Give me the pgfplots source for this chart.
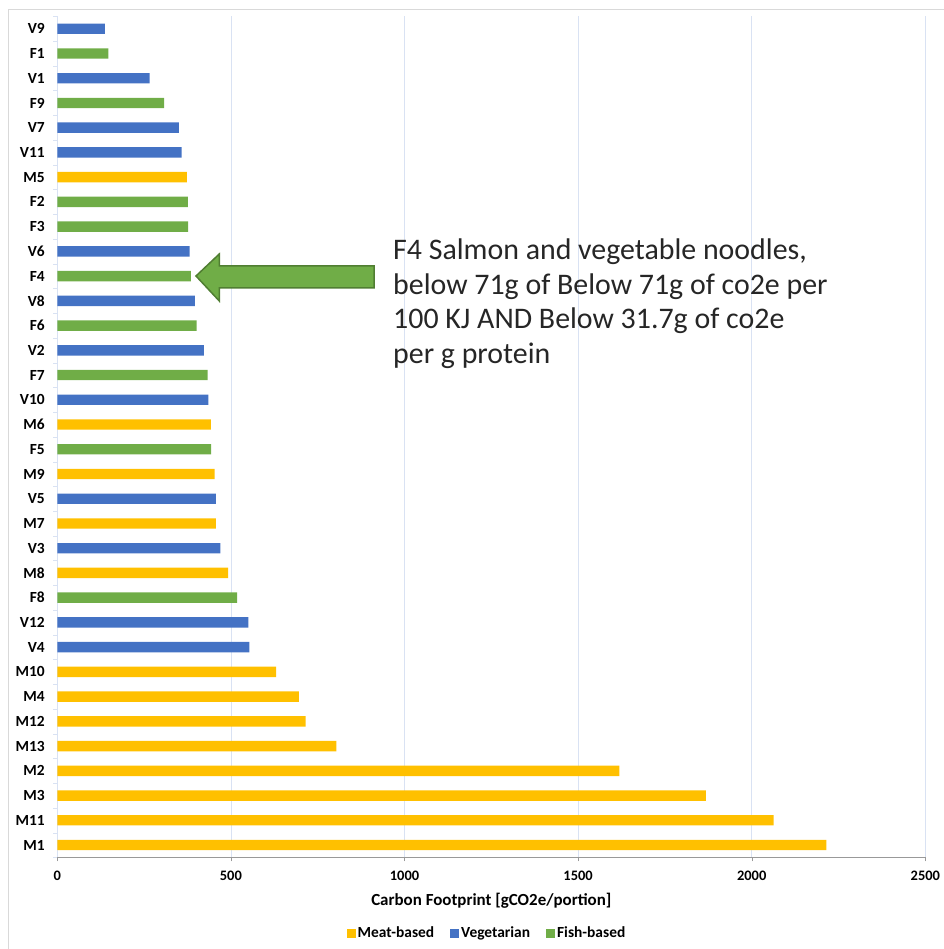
\documentclass[border=0pt]{standalone}
\usepackage{pgfplots}
\pgfplotsset{compat=1.18}
\usepackage{fontspec}
\setmainfont{Carlito}
\definecolor{meat}{HTML}{FFC000}
\definecolor{veg}{HTML}{4472C4}
\definecolor{fish}{HTML}{70AD47}
\definecolor{arrowedge}{HTML}{507E32}
\definecolor{gridc}{HTML}{D9E2F3}
\begin{document}
\begin{tikzpicture}[x=1bp,y=1bp]
\useasboundingbox (0,0) rectangle (944,949);
\draw[draw=black!15] (8,-20) rectangle (990,940);
\begin{axis}[
  at={(57.3bp,91.6bp)}, anchor=south west,
  scale only axis, width=868bp, height=841bp,
  xbar, bar shift=0pt, bar width=0.42,
  xmin=0, xmax=2500, ymin=-0.5, ymax=33.5,
  xtick={0,500,...,2500},
  ytick={0,...,33},
  yticklabels={M1,M11,M3,M2,M13,M12,M4,M10,V4,V12,F8,M8,V3,M7,V5,M9,F5,M6,V10,F7,V2,F6,V8,F4,V6,F3,F2,M5,V11,V7,F9,V1,F1,V9},
  minor ytick={-0.5,0.5,...,33.5},
  axis x line*=bottom, axis y line*=left,
  axis line style={-},
  x axis line style={draw=black!40},
  y axis line style={draw=gridc},
  tick align=outside,
  major y tick style={draw=none},
  minor y tick style={draw=gridc},
  minor tick length=4bp,
  major x tick style={draw=black!40},
  major tick length=4bp,
  xmajorgrids, major x grid style={draw=gridc, line width=0.8bp},
  /pgf/number format/assume math mode=true,
  /pgf/number format/set thousands separator={},
  xticklabel style={font=\bfseries\fontsize{14.5}{14.5}\selectfont, yshift=-6bp},
  yticklabel style={font=\bfseries\fontsize{15.5}{15.5}\selectfont, xshift=-5bp},
  xlabel={Carbon Footprint [gCO2e/portion]},
  xlabel style={font=\bfseries\fontsize{17}{17}\selectfont, yshift=-6bp},
  legend style={at={(axis description cs:0.495,-0.0899)}, anchor=center, draw=none, fill=none,
    legend columns=3, font=\bfseries\fontsize{15.5}{15.5}\selectfont},
  legend image code/.code={\fill[#1] (0bp,-4.5bp) rectangle (9bp,4.5bp);},
]
\addplot[fill=meat, draw=none] coordinates {
 (2215,0) (2063,1) (1868,2) (1619,3) (804,4) (715,5) (696,6) (630,7)
 (492,11) (457,13) (453,15) (442,17) (373,27)};
\addlegendentry{Meat-based\hspace*{14bp}\mbox{}}
\addplot[fill=veg, draw=none] coordinates {
 (553,8) (550,9) (470,12) (457,14) (435,18) (422,20) (396,22) (381,24)
 (358,28) (350,29) (266,31) (137,33)};
\addlegendentry{Vegetarian\hspace*{14bp}\mbox{}}
\addplot[fill=fish, draw=none] coordinates {
 (518,10) (443,16) (433,19) (401,21) (385,23) (377,25) (376,26) (308,30) (147,32)};
\addlegendentry{Fish-based}
\end{axis}
\filldraw[fill=fish, draw=arrowedge, line width=1.5bp, line join=miter]
  (196,673) -- (219.3,695) -- (219.3,683) -- (374,683) -- (374,661) -- (219.3,661) -- (219.3,648) -- cycle;
\begin{scope}[every node/.style={anchor=base west, inner sep=0pt, font=\fontsize{30}{34}\selectfont, text=black!85}]
\node at (393,689) {F4 Salmon and vegetable noodles,};
\node at (393,654.5) {below 71g of Below 71g of co2e per};
\node at (393,620) {100 KJ AND Below 31.7g of co2e};
\node at (393,585.5) {per g protein};
\end{scope}
\end{tikzpicture}
\end{document}
